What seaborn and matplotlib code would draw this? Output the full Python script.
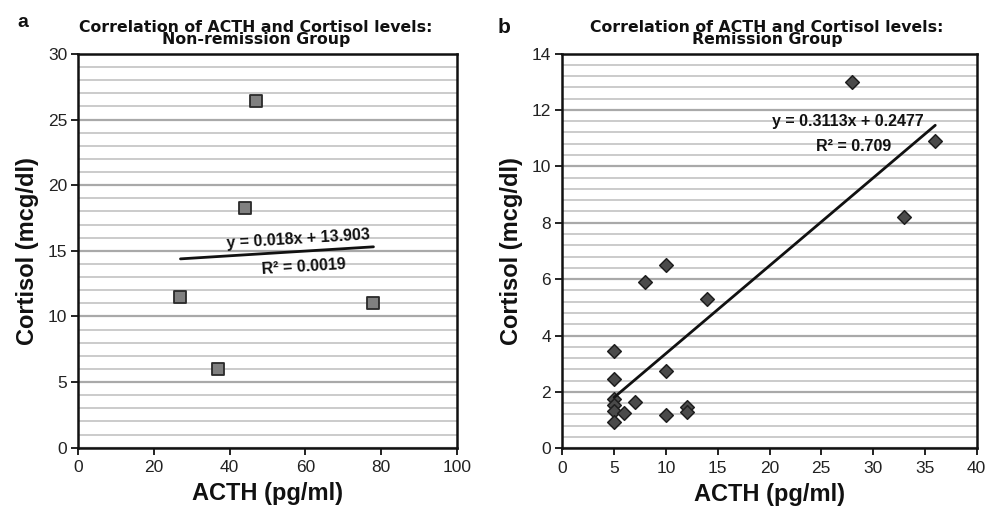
import numpy as np
import pandas as pd
import matplotlib
matplotlib.use("Agg")
import matplotlib.pyplot as plt
import seaborn as sns
from matplotlib.ticker import MultipleLocator

# ---------------- data ----------------
acth_a = [47, 44, 27, 78, 37]
cort_a = [26.4, 18.3, 11.5, 11.0, 6.0]
fit_a = (0.018, 13.903)          # slope, intercept
r2_a = "0.0019"

acth_b = [28, 36, 33, 10, 8, 14, 5, 5, 10, 5, 5, 5, 5, 6, 7, 10, 12, 12]
cort_b = [13.0, 10.9, 8.2, 6.5, 5.9, 5.3, 3.45, 2.45, 2.75, 1.75, 1.54, 1.33,
          0.92, 1.25, 1.65, 1.17, 1.47, 1.27]
fit_b = (0.3113, 0.2477)
r2_b = "0.709"

xticks_a = [0, 20, 40, 60, 80, 100]
yticks_a = [0, 5, 10, 15, 20, 25, 30]
xticks_b = [0, 5, 10, 15, 20, 25, 30, 35, 40]
yticks_b = [0, 2, 4, 6, 8, 10, 12, 14]

title_a = "Correlation of ACTH and Cortisol levels:\nNon-remission Group"
title_b = "Correlation of ACTH and Cortisol levels:\nRemission Group"
xlabel = "ACTH (pg/ml)"
ylabel = "Cortisol (mcg/dl)"

# ---------------- style ----------------
sns.set_theme(style="white")
plt.rcParams['font.family'] = ['Liberation Sans', 'DejaVu Sans']

W, H = 997, 512
fig = plt.figure(figsize=(W / 100, H / 100), dpi=100)

def px_axes(l, t, r, b):
    return fig.add_axes([l / W, 1 - b / H, (r - l) / W, (b - t) / H])

ax_a = px_axes(78.3, 54.0, 456.7, 447.7)
ax_b = px_axes(562.3, 53.5, 976.7, 448.3)

df_a = pd.DataFrame({"ACTH": acth_a, "Cortisol": cort_a})
df_b = pd.DataFrame({"ACTH": acth_b, "Cortisol": cort_b})

def style_axes(ax, xt, yt, minor_step, ylab_x):
    ax.set_xlim(xt[0], xt[-1])
    ax.set_ylim(yt[0], yt[-1])
    ax.set_xticks(xt)
    ax.set_yticks(yt)
    ax.yaxis.set_minor_locator(MultipleLocator(minor_step))
    ax.grid(False)
    ax.grid(True, axis='y', which='major', color='#a9a9a9', linewidth=1.6, zorder=0)
    ax.grid(True, axis='y', which='minor', color='#bdbdbd', linewidth=1.1, zorder=0)
    ax.set_axisbelow(True)
    for s in ax.spines.values():
        s.set_visible(True)
        s.set_color('#111111')
        s.set_linewidth(1.8)
    ax.tick_params(axis='both', which='major', direction='out', length=5, width=1.3,
                   color='#111111', labelsize=12.5, labelcolor='#222222', pad=3,
                   bottom=True, left=True)
    ax.tick_params(axis='x', which='major', pad=4)
    ax.tick_params(axis='y', which='minor', length=0, left=False)
    ax.set_xlabel(xlabel, fontsize=17, fontweight='bold', color='#111111')
    ax.set_ylabel(ylabel, fontsize=17, fontweight='bold', color='#111111')
    ax.xaxis.set_label_coords(0.5, -0.088)
    ax.yaxis.set_label_coords(ylab_x, 0.5)

# ---- panel a ----
sns.scatterplot(data=df_a, x="ACTH", y="Cortisol", ax=ax_a, marker='s', s=80,
                color='#808080', edgecolor='#2a2a2a', linewidth=1.3, zorder=4,
                legend=False)
xa = np.array([min(acth_a), max(acth_a)])
sns.lineplot(x=xa, y=fit_a[0] * xa + fit_a[1], ax=ax_a, color='#111111',
             linewidth=2.0, zorder=5)
style_axes(ax_a, xticks_a, yticks_a, 1, -0.103)
ax_a.text(58.1, 15.9, f"y = {fit_a[0]}x + {fit_a[1]}", ha='center', va='center',
          fontsize=11.5, fontweight='bold', color='#111111', rotation=3.5, zorder=6)
ax_a.text(59.6, 13.8, f"R\u00b2 = {r2_a}", ha='center', va='center',
          fontsize=11.5, fontweight='bold', color='#111111', rotation=3.5, zorder=6)

# ---- panel b ----
sns.scatterplot(data=df_b, x="ACTH", y="Cortisol", ax=ax_b, marker='D', s=48,
                color='#4a4a4a', edgecolor='#1e1e1e', linewidth=1.1, zorder=4,
                legend=False)
xb = np.array([min(acth_b), max(acth_b)])
sns.lineplot(x=xb, y=fit_b[0] * xb + fit_b[1], ax=ax_b, color='#111111',
             linewidth=2.0, zorder=5)
style_axes(ax_b, xticks_b, yticks_b, 0.4, -0.096)
ax_b.text(27.6, 11.6, f"y = {fit_b[0]}x + {fit_b[1]}", ha='center', va='center',
          fontsize=11.5, fontweight='bold', color='#111111', zorder=6)
ax_b.text(28.1, 10.7, f"R\u00b2 = {r2_b}", ha='center', va='center',
          fontsize=11.5, fontweight='bold', color='#111111', zorder=6)

# ---- titles and panel letters ----
for cx, ttl in [(256, title_a), (767, title_b)]:
    fig.text(cx / W, 1 - 19.5 / H, ttl, ha='center', va='top', fontsize=11.3,
             fontweight='bold', family=['DejaVu Sans'], color='#111111',
             linespacing=0.82)
fig.text(17 / W, 1 - 27 / H, "a", ha='left', va='baseline', fontsize=14,
         fontweight='bold', color='#111111')
fig.text(498 / W, 1 - 33 / H, "b", ha='left', va='baseline', fontsize=15,
         fontweight='bold', color='#111111')

fig.savefig("out.png", dpi=100)
